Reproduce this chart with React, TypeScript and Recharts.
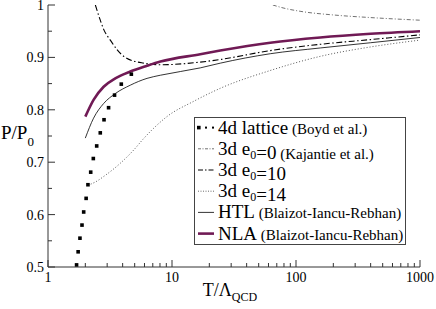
import React from "react";
import { LineChart, Line, XAxis, YAxis, Legend } from "recharts";

// readings taken off the plot (T/Lambda_QCD, P/P0)
const latticeT = [1.7, 1.75, 1.81, 1.88, 1.94, 2.03, 2.1, 2.21, 2.32, 2.47, 2.64, 2.83, 3.08, 3.44, 3.9, 4.7];
const latticeP = [0.504, 0.529, 0.555, 0.58, 0.605, 0.631, 0.657, 0.681, 0.707, 0.731, 0.756, 0.781, 0.804, 0.828, 0.849, 0.868];

const e0T = [65, 80, 108, 200, 400, 1000];
const e0P = [1.0, 0.994, 0.988, 0.981, 0.976, 0.971];

const e10T = [2.41, 2.64, 2.83, 3.18, 3.6, 4.2, 5.9, 8.07, 16.9, 24.5, 62, 157, 400, 1000];
const e10P = [1.0, 0.971, 0.952, 0.933, 0.915, 0.9, 0.889, 0.886, 0.891, 0.896, 0.913, 0.925, 0.934, 0.943];

const e14T = [2.1, 2.4, 2.9, 3.83, 4.9, 5.9, 7.2, 9.1, 14.9, 24.5, 62, 157, 400, 1000];
const e14P = [0.656, 0.662, 0.675, 0.698, 0.723, 0.745, 0.766, 0.787, 0.816, 0.841, 0.875, 0.902, 0.92, 0.933];

const htlT = [2.0, 2.33, 2.81, 3.49, 4.61, 6.29, 8.07, 16.9, 24.5, 62, 157, 400, 1000];
const htlP = [0.746, 0.784, 0.812, 0.831, 0.847, 0.86, 0.866, 0.88, 0.889, 0.907, 0.918, 0.928, 0.938];

const nlaT = [2.0, 2.33, 2.81, 3.49, 4.61, 6.29, 8.07, 16.9, 24.5, 62, 157, 400, 1000];
const nlaP = [0.787, 0.819, 0.844, 0.86, 0.873, 0.884, 0.892, 0.906, 0.913, 0.928, 0.938, 0.945, 0.95];

const xTicks = [1, 2, 3, 4, 5, 6, 7, 8, 9, 10, 20, 30, 40, 50, 60, 70, 80, 90, 100, 200, 300, 400, 500, 600, 700, 800, 900, 1000];
const xMajor = [1, 10, 100, 1000];
const yTicks = [0.5, 0.55, 0.6, 0.65, 0.7, 0.75, 0.8, 0.85, 0.9, 0.95, 1];
const yMajor = [0.5, 0.6, 0.7, 0.8, 0.9, 1];

const PURPLE = "#701a55";
const AXIS = "#333";
const serif = { fontFamily: "Liberation Serif, DejaVu Serif, serif" };

const zip = (t: number[], p: number[]) => t.map((v, i) => ({ t: v, p: p[i] }));

const BottomTick = ({ x, y, payload }: any) => {
  const major = xMajor.includes(payload.value);
  return (
    <g>
      <line x1={x} x2={x} y1={y} y2={y - (major ? 7 : 4)} stroke={AXIS} />
      {major && (
        <text x={x} y={y + 15} textAnchor="middle" fontSize={14} style={serif} fill="#000">
          {payload.value}
        </text>
      )}
    </g>
  );
};

const TopTick = ({ x, y, payload }: any) => {
  const major = xMajor.includes(payload.value);
  return <line x1={x} x2={x} y1={y} y2={y + (major ? 7 : 4)} stroke={AXIS} />;
};

const LeftTick = ({ x, y, payload }: any) => {
  const major = yMajor.includes(payload.value);
  return (
    <g>
      <line x1={x} x2={x + (major ? 7 : 4)} y1={y} y2={y} stroke={AXIS} />
      {major && (
        <text x={x - 4} y={y + 5} textAnchor="end" fontSize={14} style={serif} fill="#000">
          {payload.value}
        </text>
      )}
    </g>
  );
};

const RightTick = ({ x, y, payload }: any) => {
  const major = yMajor.includes(payload.value);
  return <line x1={x} x2={x - (major ? 7 : 4)} y1={y} y2={y} stroke={AXIS} />;
};

const Square = (props: any) => {
  const { cx, cy, index } = props;
  return <rect key={"sq" + index} x={cx - 1.8} y={cy - 1.8} width={3.6} height={3.6} fill="#000" />;
};

const Row = ({ i, children }: { i: number; children: React.ReactNode }) => (
  <text x={24} y={16.5 + 21.2 * i} fontSize={19} style={serif} fill="#000">
    {children}
  </text>
);

const Sub = ({ children }: { children: React.ReactNode }) => (
  <>
    <tspan dy={4} fontSize={12}>{children}</tspan>
    <tspan dy={-4}></tspan>
  </>
);

const Note = ({ children }: { children: React.ReactNode }) => (
  <tspan fontSize={15}> {children}</tspan>
);

const renderLegend = () => {
  const cy = (i: number) => 10.6 + 21.2 * i;
  return (
    <svg width={212} height={128} style={{ display: "block" }}>
      <rect x={0.5} y={0.5} width={211} height={127} fill="#fff" stroke="#444" />
      <rect x={3} y={cy(0) - 1.8} width={3.6} height={3.6} fill="#000" />
      <rect x={11} y={cy(0) - 1} width={2} height={2} fill="#000" />
      <rect x={18} y={cy(0) - 1} width={2} height={2} fill="#000" />
      <line x1={4} x2={20} y1={cy(1)} y2={cy(1)} stroke="#333" strokeWidth={0.7} strokeDasharray="3 1.5 1 1.5" />
      <line x1={4} x2={20} y1={cy(2)} y2={cy(2)} stroke="#000" strokeWidth={1.1} strokeDasharray="5 2 1.5 2" />
      <line x1={4} x2={20} y1={cy(3)} y2={cy(3)} stroke="#444" strokeWidth={0.8} strokeDasharray="1 1.5" />
      <line x1={4} x2={20} y1={cy(4)} y2={cy(4)} stroke="#000" strokeWidth={0.8} />
      <line x1={4} x2={20} y1={cy(5)} y2={cy(5)} stroke={PURPLE} strokeWidth={2.6} />
      <Row i={0}>
        4d lattice<Note>(Boyd et al.)</Note>
      </Row>
      <Row i={1}>
        3d e<Sub>0</Sub>=0<Note>(Kajantie et al.)</Note>
      </Row>
      <Row i={2}>
        3d e<Sub>0</Sub>=10
      </Row>
      <Row i={3}>
        3d e<Sub>0</Sub>=14
      </Row>
      <Row i={4}>
        HTL<Note>(Blaizot-Iancu-Rebhan)</Note>
      </Row>
      <Row i={5}>
        NLA<Note>(Blaizot-Iancu-Rebhan)</Note>
      </Row>
    </svg>
  );
};

const App = () => {
  return (
    <div style={{ position: "absolute", left: 0, top: 0 }}>
      <LineChart width={436} height={309} margin={{ top: 5, right: 16, bottom: 0, left: 0 }}>
        <XAxis
          dataKey="t"
          type="number"
          scale="log"
          domain={[1, 1000]}
          allowDataOverflow
          ticks={xTicks}
          interval={0}
          tickSize={0}
          tickMargin={0}
          tick={<BottomTick />}
          height={42}
          stroke={AXIS}
          label={{
            content: (props: any) => {
              const vb = props.viewBox;
              return (
                <text x={vb.x + vb.width / 2 - 4} y={vb.y + 29} textAnchor="middle" fontSize={18} style={serif} fill="#000">
                  T/Λ<tspan dy={5} fontSize={12}>QCD</tspan>
                </text>
              );
            },
          }}
        />
        <XAxis
          xAxisId="top"
          orientation="top"
          type="number"
          scale="log"
          domain={[1, 1000]}
          allowDataOverflow
          ticks={xTicks}
          interval={0}
          tickSize={0}
          tickMargin={0}
          tick={<TopTick />}
          height={0}
          stroke={AXIS}
        />
        <YAxis
          type="number"
          domain={[0.5, 1]}
          allowDataOverflow
          ticks={yTicks}
          interval={0}
          tickSize={0}
          tickMargin={0}
          tick={<LeftTick />}
          width={48}
          stroke={AXIS}
          label={{
            content: (props: any) => {
              const vb = props.viewBox;
              return (
                <text x={vb.x + 1} y={vb.y + vb.height / 2 + 3} fontSize={19} style={serif} fill="#000">
                  P/P<tspan dy={7} fontSize={13}>0</tspan>
                </text>
              );
            },
          }}
        />
        <YAxis
          yAxisId="right"
          orientation="right"
          type="number"
          domain={[0.5, 1]}
          allowDataOverflow
          ticks={yTicks}
          interval={0}
          tickSize={0}
          tickMargin={0}
          tick={<RightTick />}
          width={0}
          stroke={AXIS}
        />
        <Legend
          content={renderLegend}
          layout="vertical"
          align="center"
          verticalAlign="middle"
          wrapperStyle={{ left: 194, top: 117, width: 212, height: 128 }}
        />
        <Line
          data={zip(e0T, e0P)}
          dataKey="p"
          type="monotone"
          stroke="#333"
          strokeWidth={0.7}
          strokeDasharray="4 2 1 2"
          dot={false}
          activeDot={false}
          isAnimationActive={false}
        />
        <Line
          data={zip(e14T, e14P)}
          dataKey="p"
          type="monotone"
          stroke="#444"
          strokeWidth={0.9}
          strokeDasharray="1 2"
          dot={false}
          activeDot={false}
          isAnimationActive={false}
        />
        <Line
          data={zip(e10T, e10P)}
          dataKey="p"
          type="monotone"
          stroke="#000"
          strokeWidth={1.1}
          strokeDasharray="6 2.5 1.5 2.5"
          dot={false}
          activeDot={false}
          isAnimationActive={false}
        />
        <Line
          data={zip(htlT, htlP)}
          dataKey="p"
          type="monotone"
          stroke="#000"
          strokeWidth={0.8}
          dot={false}
          activeDot={false}
          isAnimationActive={false}
        />
        <Line
          data={zip(nlaT, nlaP)}
          dataKey="p"
          type="monotone"
          stroke={PURPLE}
          strokeWidth={2.6}
          dot={false}
          activeDot={false}
          isAnimationActive={false}
        />
        <Line
          data={zip(latticeT, latticeP)}
          dataKey="p"
          stroke="none"
          dot={Square}
          activeDot={false}
          isAnimationActive={false}
        />
      </LineChart>
    </div>
  );
};

export default App;
